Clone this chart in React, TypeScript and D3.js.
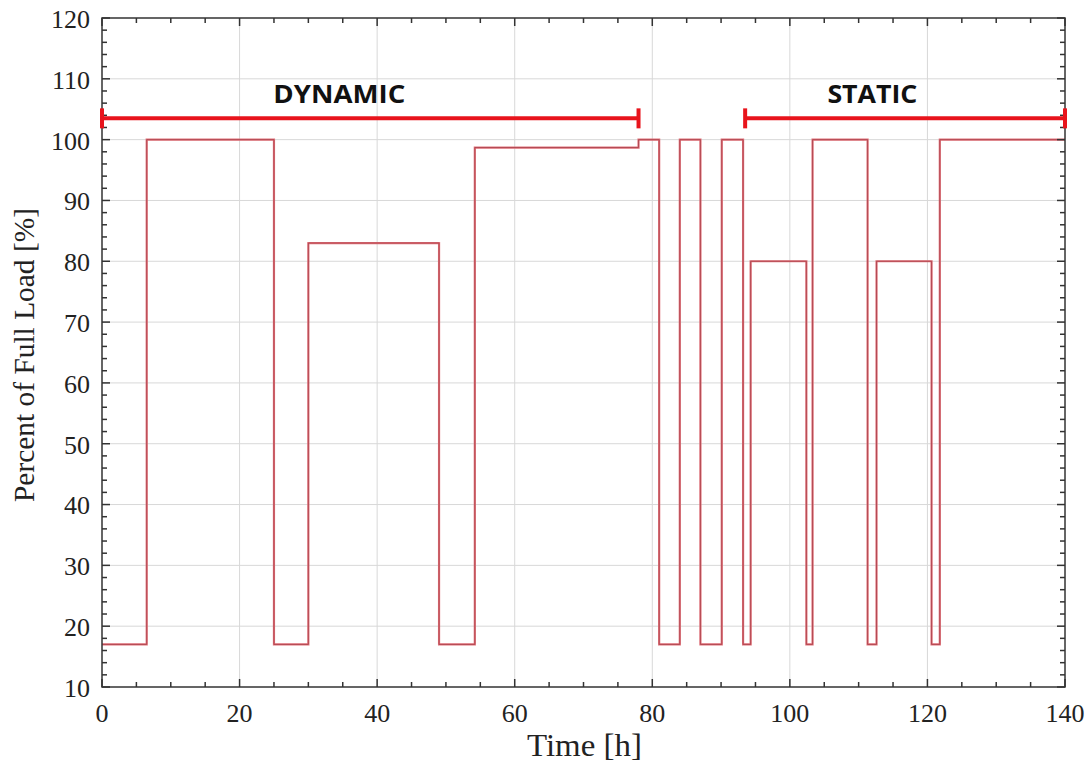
import { useEffect, useRef } from "react";
import * as d3 from "d3";

// step profile: each segment [start, end, load]
const segStart = [0, 6.5, 25, 30, 49, 54.2, 78, 81, 84, 87, 90.1, 93.2, 94.3, 102.4, 103.3, 111.3, 112.6, 120.6, 121.8];
const segEnd = [6.5, 25, 30, 49, 54.2, 78, 81, 84, 87, 90.1, 93.2, 94.3, 102.4, 103.3, 111.3, 112.6, 120.6, 121.8, 140];
const segLoad = [17, 100, 17, 83, 17, 98.7, 100, 17, 100, 17, 100, 17, 80, 17, 100, 17, 80, 17, 100];

const xMajor = [0, 20, 40, 60, 80, 100, 120, 140];
const yMajor = [10, 20, 30, 40, 50, 60, 70, 80, 90, 100, 110, 120];

const phaseNames = ["DYNAMIC", "STATIC"];
const phaseFrom = [0, 93.5];
const phaseTo = [78, 140];
const phaseLabelAt = [34.5, 112];
const phaseLabelLen = [132, 90];
const phaseLevel = 103.5;

const App = () => {
    const svgRef = useRef<SVGSVGElement>(null);

    useEffect(() => {
        if (!svgRef.current) return;
        const svg = d3.select(svgRef.current);
        svg.selectAll("*").remove();

        const W = 1091, H = 762;
        const margin = { top: 18, right: 26, bottom: 75, left: 102 };
        const width = W - margin.left - margin.right;
        const height = H - margin.top - margin.bottom;

        const x = d3.scaleLinear().domain([0, 140]).range([0, width]);
        const y = d3.scaleLinear().domain([10, 120]).range([height, 0]);

        const g = svg.append("g").attr("transform", `translate(${margin.left},${margin.top})`);

        // Grid lines
        g.selectAll(".gx").data(xMajor.slice(1, -1)).join("line")
            .attr("x1", d => x(d)).attr("x2", d => x(d))
            .attr("y1", 0).attr("y2", height)
            .style("stroke", "#d8d8d8").style("stroke-width", 1);
        g.selectAll(".gy").data(yMajor.slice(1, -1)).join("line")
            .attr("y1", d => y(d)).attr("y2", d => y(d))
            .attr("x1", 0).attr("x2", width)
            .style("stroke", "#d8d8d8").style("stroke-width", 1);

        // Step line
        const pts: [number, number][] = [];
        segStart.forEach((s, i) => {
            pts.push([s, segLoad[i]]);
            pts.push([segEnd[i], segLoad[i]]);
        });
        const line = d3.line<[number, number]>().x(d => x(d[0])).y(d => y(d[1]));
        g.append("path").datum(pts)
            .attr("d", line)
            .style("fill", "none")
            .style("stroke", "#e07078")
            .style("stroke-width", 2.2);
        g.append("path").datum(pts)
            .attr("d", line)
            .style("fill", "none")
            .style("stroke", "#a8404a")
            .style("stroke-width", 0.8);

        // Frame and inward ticks
        g.append("rect").attr("width", width).attr("height", height)
            .style("fill", "none").style("stroke", "#333").style("stroke-width", 1.5);

        const xMinor = d3.range(0, 141, 5);
        const yMinor = d3.range(10, 121, 2);
        const tickLen = (major: boolean) => (major ? 8 : 5);

        xMinor.forEach(v => {
            const major = v % 20 === 0;
            g.append("line").attr("x1", x(v)).attr("x2", x(v))
                .attr("y1", height).attr("y2", height - tickLen(major))
                .style("stroke", "#333").style("stroke-width", 1.5);
            g.append("line").attr("x1", x(v)).attr("x2", x(v))
                .attr("y1", 0).attr("y2", tickLen(major))
                .style("stroke", "#333").style("stroke-width", 1.5);
        });
        yMinor.forEach(v => {
            const major = v % 10 === 0;
            g.append("line").attr("y1", y(v)).attr("y2", y(v))
                .attr("x1", 0).attr("x2", tickLen(major))
                .style("stroke", "#333").style("stroke-width", 1.5);
            g.append("line").attr("y1", y(v)).attr("y2", y(v))
                .attr("x1", width).attr("x2", width - tickLen(major))
                .style("stroke", "#333").style("stroke-width", 1.5);
        });

        // Tick labels
        const serif = "'Liberation Serif', 'DejaVu Serif', serif";
        g.selectAll(".xl").data(xMajor).join("text")
            .attr("x", d => x(d)).attr("y", height + 35)
            .attr("text-anchor", "middle")
            .style("font-family", serif).style("font-size", "26px").style("fill", "#222")
            .text(d => d);
        g.selectAll(".yl").data(yMajor).join("text")
            .attr("x", -12).attr("y", d => y(d)).attr("dy", "0.38em")
            .attr("text-anchor", "end")
            .style("font-family", serif).style("font-size", "26px").style("fill", "#222")
            .text(d => d);

        // Axis titles
        g.append("text")
            .attr("x", width / 2 + 1).attr("y", height + 69)
            .attr("text-anchor", "middle")
            .attr("textLength", 115).attr("lengthAdjust", "spacingAndGlyphs")
            .style("font-family", serif).style("font-size", "31px").style("fill", "#222")
            .text("Time [h]");
        g.append("text")
            .attr("transform", `translate(${-68},${337}) rotate(-90)`)
            .attr("text-anchor", "middle")
            .attr("textLength", 294).attr("lengthAdjust", "spacingAndGlyphs")
            .style("font-family", serif).style("font-size", "30px").style("fill", "#222")
            .text("Percent of Full Load [%]");

        // Phase brackets
        const red = "#e8141c";
        phaseNames.forEach((name, i) => {
            const x0 = x(phaseFrom[i]), x1 = x(phaseTo[i]), yy = y(phaseLevel);
            g.append("line").attr("x1", x0).attr("x2", x1).attr("y1", yy).attr("y2", yy)
                .style("stroke", red).style("stroke-width", 4);
            [x0, x1].forEach(xx => {
                g.append("line").attr("x1", xx).attr("x2", xx).attr("y1", yy - 10).attr("y2", yy + 10)
                    .style("stroke", red).style("stroke-width", 4);
            });
            g.append("text")
                .attr("x", x(phaseLabelAt[i])).attr("y", yy - 15)
                .attr("text-anchor", "middle")
                .attr("textLength", phaseLabelLen[i]).attr("lengthAdjust", "spacingAndGlyphs")
                .style("font-family", "'Open Sans', 'Liberation Sans', sans-serif")
                .style("font-weight", "bold").style("font-size", "25px").style("fill", "#111")
                .text(name);
        });
    }, []);

    return (
        <div style={{ position: "absolute", left: 0, top: 0, background: "#fff" }}>
            <svg ref={svgRef} width={1091} height={762}></svg>
        </div>
    );
};

export default App;
